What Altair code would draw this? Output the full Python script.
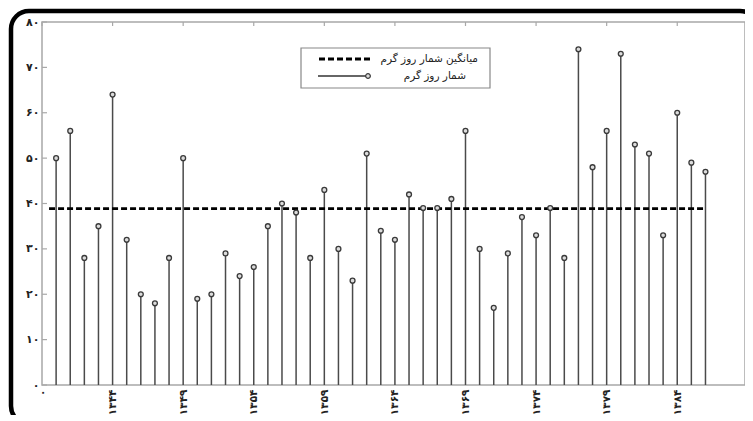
import altair as alt
import pandas as pd

# ---- data ----
years = [1340, 1341, 1342, 1343, 1344, 1345, 1346, 1347, 1348, 1349,
         1350, 1351, 1352, 1353, 1354, 1355, 1356, 1357, 1358, 1359,
         1360, 1361, 1362, 1363, 1364, 1365, 1366, 1367, 1368, 1369,
         1370, 1371, 1372, 1373, 1374, 1375, 1376, 1377, 1378, 1379,
         1380, 1381, 1382, 1383, 1384, 1385, 1386]
hot_days = [50, 56, 28, 35, 64, 32, 20, 18, 28, 50,
            19, 20, 29, 24, 26, 35, 40, 38, 28, 43,
            30, 23, 51, 34, 32, 42, 39, 39, 41, 56,
            30, 17, 29, 37, 33, 39, 28, 74, 48, 56,
            73, 53, 51, 33, 60, 49, 47]

x_tick_values = [1339, 1344, 1349, 1354, 1359, 1364, 1369, 1374, 1379, 1384]
x_tick_labels = ["۰", "۱۳۴۴", "۱۳۴۹", "۱۳۵۴", "۱۳۵۹", "۱۳۶۴", "۱۳۶۹", "۱۳۷۴", "۱۳۷۹", "۱۳۸۴"]
y_tick_values = [0, 10, 20, 30, 40, 50, 60, 70, 80]
y_tick_labels = ["۰", "۱۰", "۲۰", "۳۰", "۴۰", "۵۰", "۶۰", "۷۰", "۸۰"]
legend_labels = ["میانگین شمار روز گرم", "شمار روز گرم"]

mean_value = sum(hot_days) / len(hot_days)

df = pd.DataFrame({"year": years, "days": hot_days})
mean_df = pd.DataFrame({"x0": [years[0] - 0.5], "x1": [years[-1]], "m": [mean_value]})
xt_df = pd.DataFrame({"v": x_tick_values})
yt_df = pd.DataFrame({"v": y_tick_values})
one = pd.DataFrame({"a": [0]})

FONT = "DejaVu Sans"
AX = "#a8a8a8"

x_lab_expr = "[" + ",".join("'" + s + "'" for s in x_tick_labels) + "][round((datum.value-1339)/5)]"
y_lab_expr = "[" + ",".join("'" + s + "'" for s in y_tick_labels) + "][round(datum.value/10)]"

xscale = alt.Scale(domain=[1339, 1388.8], nice=False, zero=False)
yscale = alt.Scale(domain=[0, 80], nice=False)

xenc = alt.X("year:Q", scale=xscale,
             axis=alt.Axis(values=x_tick_values, labelExpr=x_lab_expr, labelAngle=270,
                           ticks=False, domain=False, grid=False, title=None,
                           labelFont=FONT, labelFontSize=10.5, labelFontWeight="bold",
                           labelColor="#222222", labelPadding=4))
yenc = alt.Y("days:Q", scale=yscale,
             axis=alt.Axis(values=y_tick_values, labelExpr=y_lab_expr,
                           ticks=False, domain=False, grid=False, title=None,
                           labelFont=FONT, labelFontSize=11, labelFontWeight="bold",
                           labelColor="#222222", labelPadding=3))

stems = alt.Chart(df).mark_rule(color="#4a4a4a", strokeWidth=1.5).encode(
    x=xenc, y=yenc, y2=alt.datum(0))

heads = alt.Chart(df).mark_point(shape="circle", size=24, filled=True, fill="#dcdcdc",
                                 stroke="#3a3a3a", strokeWidth=1.3, opacity=1).encode(
    x="year:Q", y="days:Q")

mean_line = alt.Chart(mean_df).mark_rule(color="black", strokeWidth=2.8,
                                          strokeDash=[6, 3]).encode(
    x=alt.X("x0:Q", scale=xscale), x2="x1:Q", y=alt.Y("m:Q", scale=yscale))

y_ticks = alt.Chart(yt_df).mark_rule(color=AX, strokeWidth=1.2).encode(
    y=alt.Y("v:Q", scale=yscale), x=alt.value(0), x2=alt.value(5))
x_ticks_top = alt.Chart(xt_df).mark_rule(color=AX, strokeWidth=1.2).encode(
    x=alt.X("v:Q", scale=xscale), y=alt.value(0), y2=alt.value(4))

# legend
leg_box = alt.Chart(one).mark_rect(fill="white", stroke="#888888", strokeWidth=1.2).encode(
    x=alt.value(259), x2=alt.value(448), y=alt.value(26), y2=alt.value(66))
leg_dash = alt.Chart(one).mark_rule(color="black", strokeWidth=2.8, strokeDash=[6, 3]).encode(
    x=alt.value(277), x2=alt.value(331), y=alt.value(37))
leg_solid = alt.Chart(one).mark_rule(color="#333333", strokeWidth=1.4).encode(
    x=alt.value(276), x2=alt.value(326), y=alt.value(54))
leg_pt = alt.Chart(one).mark_point(shape="circle", size=22, filled=True, fill="#dcdcdc",
                                   stroke="#3a3a3a", strokeWidth=1.2, opacity=1).encode(
    x=alt.value(326), y=alt.value(54))
leg_t1 = alt.Chart(one).mark_text(align="right", baseline="middle", font=FONT, fontSize=10.5,
                                  color="#222222").encode(
    x=alt.value(436), y=alt.value(37), text=alt.value(legend_labels[0]))
leg_t2 = alt.Chart(one).mark_text(align="right", baseline="middle", font=FONT, fontSize=10.5,
                                  color="#222222").encode(
    x=alt.value(424), y=alt.value(54), text=alt.value(legend_labels[1]))

# outer rounded frame
frame = alt.Chart(one).mark_rect(filled=False, stroke="black", strokeWidth=4.5,
                                 cornerRadius=18).encode(
    x=alt.value(-31), x2=alt.value(716), y=alt.value(-11), y2=alt.value(402))

chart = alt.layer(
    frame, stems, mean_line, heads, y_ticks, x_ticks_top,
    leg_box, leg_dash, leg_solid, leg_pt, leg_t1, leg_t2
).properties(
    width=703, height=363,
    autosize=alt.AutoSizeParams(type="none"),
    padding={"left": 34, "top": 14, "right": 0, "bottom": 30},
    background="white",
).configure_view(stroke=AX, strokeWidth=1.5)

chart.save("out.html", embed_options={"renderer": "svg", "actions": False})
